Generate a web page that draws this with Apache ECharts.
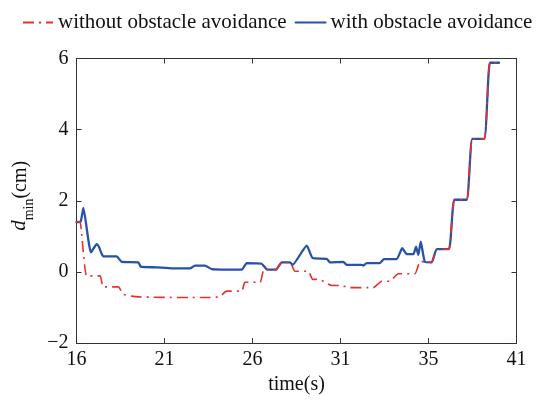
<!DOCTYPE html>
<html>
<head>
<meta charset="utf-8">
<script src="https://cdn.jsdelivr.net/npm/echarts@6/dist/echarts.min.js"></script>
<style>
  html, body { margin: 0; padding: 0; background: #fff; }
  #chart { width: 542px; height: 400px; }
</style>
</head>
<body>
<div id="chart"></div>
<script>
// time axis tick labels (as printed under the axis)
const timeTickLabels = ['16', '21', '26', '31', '35', '41'];
const yTicks = [-2, 0, 2, 4, 6];

// minimum distance without obstacle avoidance: [time (s), d_min (cm)]
const withoutAvoidTime = [16.0, 16.2, 16.58, 17.34, 17.52, 18.38, 18.66, 19.51, 22.45, 23.59, 24.15, 24.53,
  25.39, 25.57, 26.43, 26.65, 27.34, 27.66, 28.13, 28.41, 29.17, 29.42, 29.72, 29.93, 30.5, 31.07, 31.44,
  32.86, 33.34, 33.81, 34.28, 35.23, 35.52, 35.8, 36.18, 36.47, 37.16, 37.47, 38.17, 38.49, 39.17, 39.49, 40.01];
const withoutAvoidDist = [1.41, 1.41, -0.11, -0.11, -0.42, -0.42, -0.63, -0.7, -0.72, -0.72, -0.69, -0.54,
  -0.54, -0.29, -0.29, 0.065, 0.065, 0.27, 0.27, 0.02, 0.02, -0.21, -0.21, -0.24, -0.38, -0.38, -0.44,
  -0.44, -0.26, -0.26, -0.05, -0.05, 0.3, 0.28, 0.27, 0.64, 0.64, 2.03, 2.03, 3.74, 3.74, 5.88, 5.88];

// minimum distance with obstacle avoidance
const withAvoidTime = [16.0, 16.24, 16.39, 16.82, 17.15, 17.28, 17.52, 18.28, 18.57, 19.51, 19.65, 20.56,
  21.48, 22.45, 22.73, 23.3, 23.68, 25.39, 25.67, 26.52, 26.84, 27.34, 27.66, 28.13, 28.28, 29.08, 29.42,
  30.22, 30.4, 31.16, 31.35, 32.2, 32.3, 32.49, 33.24, 33.47, 34.19, 34.51, 34.76, 35.14, 35.29, 35.42,
  35.56, 35.8, 36.18, 36.47, 37.16, 37.47, 38.17, 38.49, 39.17, 39.49, 40.01];
const withAvoidDist = [1.4, 1.42, 1.8, 0.55, 0.78, 0.7, 0.44, 0.44, 0.28, 0.27, 0.15, 0.13,
  0.1, 0.1, 0.18, 0.18, 0.08, 0.065, 0.25, 0.23, 0.065, 0.065, 0.27, 0.27, 0.2, 0.74, 0.39,
  0.37, 0.27, 0.28, 0.2, 0.2, 0.18, 0.25, 0.25, 0.36, 0.36, 0.67, 0.5, 0.5, 0.71, 0.48,
  0.85, 0.28, 0.27, 0.64, 0.64, 2.03, 2.03, 3.74, 3.74, 5.88, 5.88];

const zip = (xs, ys) => xs.map((x, i) => [x, ys[i]]);

const SERIF = '"Liberation Serif", "DejaVu Serif", serif';
const AXIS_COLOR = '#333';
const TEXT_COLOR = '#111';
const RED = '#e8302c';
const BLUE = '#2752a6';

const xRange = { min: 16, max: 41, interval: 5 };
const yRange = { min: yTicks[0], max: yTicks[yTicks.length - 1], interval: 2 };

function frameAxis(extra) {
  return Object.assign({
    type: 'value',
    axisLine: { show: true, onZero: false, lineStyle: { color: AXIS_COLOR, width: 1 } },
    axisTick: { show: true, inside: true, length: 5, lineStyle: { color: AXIS_COLOR } },
    splitLine: { show: false },
    axisLabel: { show: false }
  }, extra);
}

const chart = echarts.init(document.getElementById('chart'), null, { renderer: 'canvas' });
chart.setOption({
  animation: false,
  backgroundColor: '#fff',
  legend: {
    top: 7,
    left: 17,
    itemWidth: 30,
    itemHeight: 12,
    itemGap: 8,
    data: ['without obstacle avoidance', 'with obstacle avoidance'],
    itemStyle: { opacity: 0 },
    textStyle: { fontFamily: SERIF, fontSize: 21, color: TEXT_COLOR }
  },
  grid: { left: 76.5, right: 25.5, top: 58.5, bottom: 54.3 },
  xAxis: [
    frameAxis(Object.assign({
      position: 'bottom',
      name: 'time(s)',
      nameLocation: 'middle',
      nameGap: 26,
      nameTextStyle: { fontFamily: SERIF, fontSize: 20, color: TEXT_COLOR },
      axisLabel: {
        show: true,
        margin: 7,
        fontFamily: SERIF,
        fontSize: 20,
        color: TEXT_COLOR,
        formatter: v => timeTickLabels[Math.round((v - xRange.min) / xRange.interval)]
      }
    }, xRange)),
    frameAxis(Object.assign({ position: 'top' }, xRange))
  ],
  yAxis: [
    frameAxis(Object.assign({
      position: 'left',
      name: '{i|d}{s|min}{n|(cm)}',
      nameLocation: 'middle',
      nameGap: 38,
      nameTextStyle: {
        fontFamily: SERIF, fontSize: 20, color: TEXT_COLOR,
        padding: [0, 0, 0, 10],
        rich: {
          i: { fontFamily: SERIF, fontSize: 21, fontStyle: 'italic', color: TEXT_COLOR, verticalAlign: 'bottom' },
          s: { fontFamily: SERIF, fontSize: 14, color: TEXT_COLOR, verticalAlign: 'bottom', padding: [0, 0, -6, 0] },
          n: { fontFamily: SERIF, fontSize: 20, color: TEXT_COLOR, verticalAlign: 'bottom' }
        }
      },
      axisLabel: {
        show: true,
        margin: 8,
        fontFamily: SERIF,
        fontSize: 20,
        color: TEXT_COLOR,
        formatter: v => (v < 0 ? '\u2212' + Math.abs(v) : String(v))
      }
    }, yRange)),
    frameAxis(Object.assign({ position: 'right' }, yRange))
  ],
  series: [
    {
      name: 'with obstacle avoidance',
      type: 'line',
      data: zip(withAvoidTime, withAvoidDist),
      showSymbol: false,
      symbol: 'none',
      smooth: 0.15,
      lineStyle: { color: BLUE, width: 2.3, cap: 'round', join: 'round' },
      itemStyle: { color: BLUE },
      z: 2
    },
    {
      name: 'without obstacle avoidance',
      type: 'line',
      data: zip(withoutAvoidTime, withoutAvoidDist),
      showSymbol: false,
      symbol: 'none',
      smooth: 0.15,
      lineStyle: { color: RED, width: 1.6, type: [11, 5, 2, 5] },
      itemStyle: { color: RED },
      z: 3
    }
  ]
});
</script>
</body>
</html>
